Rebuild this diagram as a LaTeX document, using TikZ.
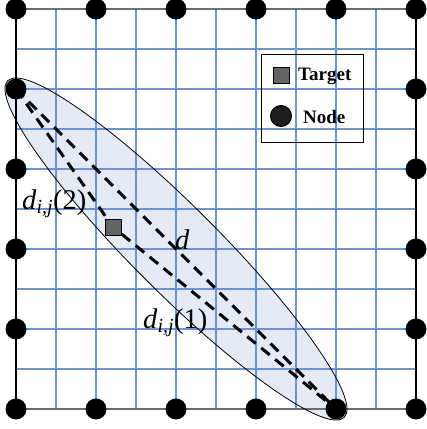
\documentclass[tikz,border=0pt]{standalone}
\usepackage{fontspec}
\setmainfont{Liberation Serif}
\definecolor{gridblue}{RGB}{105,148,218}
\definecolor{ellfill}{RGB}{228,235,246}
\definecolor{framegray}{RGB}{110,110,110}
\definecolor{targetgray}{RGB}{100,100,100}
\definecolor{nodedark}{RGB}{30,30,30}
\begin{document}
\begin{tikzpicture}[x=1pt,y=-1pt,
  gridline/.style={draw=gridblue,line width=1.1pt},
  sensor/.style={circle,fill=black,inner sep=0pt,minimum size=21pt},
  targetbox/.style={rectangle,draw=black,line width=0.8pt,fill=targetgray,inner sep=0pt,minimum size=16pt},
  pathline/.style={dash pattern=on 11pt off 7pt,line width=3pt},
  lbl/.style={inner sep=0pt,font=\fontsize{28.5}{30}\selectfont},
  leg/.style={inner sep=0pt,font=\fontsize{19}{21}\selectfont\bfseries}]
\useasboundingbox (0,0) rectangle (427,429);
% ellipse fill
\fill[ellfill,rotate around={-45:(176,249)}] (176,249) ellipse [x radius=238pt, y radius=43pt];
% grid
\foreach \x in {56,96,...,376} \draw[gridline] (\x,9) -- (\x,409);
\foreach \y in {49,89,...,369} \draw[gridline] (16,\y) -- (416,\y);
% frame
\draw[line width=1.5pt,framegray] (16,9) -- (416,9);
\draw[line width=1.5pt,framegray] (16,409) -- (416,409);
\draw[line width=1.5pt,black] (16,9) -- (16,409);
\draw[line width=1.5pt,black] (416,9) -- (416,409);
% ellipse border
\draw[line width=0.8pt,rotate around={-45:(176,249)}] (176,249) ellipse [x radius=238pt, y radius=43pt];
% legend
\draw[line width=1pt] (261,54) rectangle (363,142);
\node[targetbox] (lt) at (281,75) {};
\node[leg,anchor=base west] (ltt) at (298,80) {Target};
\node[circle,draw=black,line width=1pt,fill=nodedark,inner sep=0pt,minimum size=21pt] (ln) at (281,116) {};
\node[leg,anchor=base west] (lnt) at (303,123) {Node};
% nodes on perimeter
\foreach \i/\x in {0/16,1/96,2/176,3/256,4/336,5/416} {
  \node[sensor] (t\i) at (\x,9) {};
  \node[sensor] (b\i) at (\x,409) {};
}
\foreach \j/\y in {1/89,2/169,3/249,4/329} {
  \node[sensor] (l\j) at (16,\y) {};
  \node[sensor] (r\j) at (416,\y) {};
}
% target
\node[targetbox] (tg) at (113,227) {};
% dashed paths
\draw[pathline] (l1.center) -- (b4.center);
\draw[pathline] (l1.center) -- (tg.center) -- (b4.center);
\node[targetbox] at (113,227) {};
% labels
\node[lbl,anchor=base west] (d2) at (22,209) {\textit{d}\textsubscript{\textit{i,j}}(2)};
\node[lbl,anchor=base west] (dd) at (175,249) {\textit{d}};
\node[lbl,anchor=base west] (d1) at (143,328) {\textit{d}\textsubscript{\textit{i,j}}(1)};
\end{tikzpicture}
\end{document}
